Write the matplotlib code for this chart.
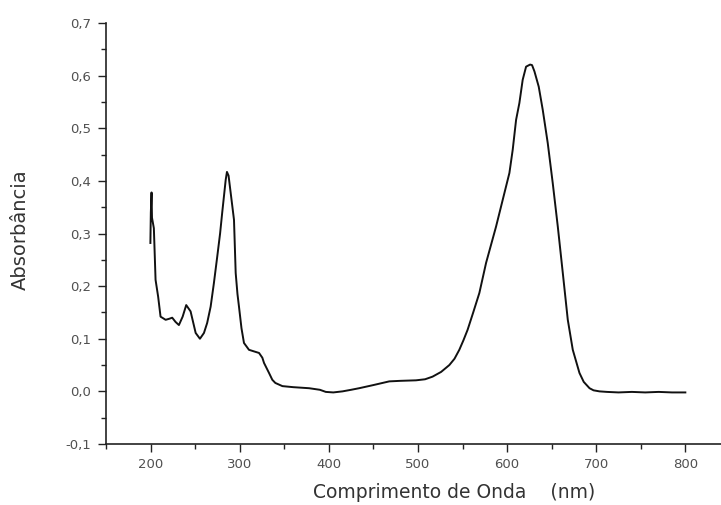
import matplotlib
matplotlib.use("Agg")
import matplotlib.pyplot as plt
from matplotlib.ticker import MultipleLocator, FuncFormatter

# wavelength (nm) and absorbance
wavelength = [199.8, 200.3, 201.1, 201.6, 203.7, 205.6, 208.5, 211.2, 216.9, 221.0, 224.3,
              228.0, 231.8, 236.0, 240.0, 244.9, 250.6, 255.4, 259.9, 263.5, 267.4, 271.0,
              274.8, 278.0, 280.4, 284.3, 285.7, 287.5, 289.9, 293.6, 295.5, 297.5, 299.2,
              302.0, 304.8, 310.4, 316.0, 321.7, 325.4, 327.3, 332.9, 336.6, 340.0, 347.9,
              360.0, 377.9, 390.0, 396.6, 405.0, 415.3, 425.0, 434.0, 450.0, 467.8, 480.0,
              497.8, 508.0, 516.4, 526.0, 535.2, 541.0, 546.4, 551.0, 555.7, 562.0, 568.9,
              576.4, 587.6, 595.1, 602.6, 606.3, 610.1, 613.8, 617.5, 621.3, 625.8, 628.0,
              630.7, 635.5, 640.0, 645.6, 651.2, 656.9, 662.5, 668.1, 673.7, 681.2, 686.0,
              692.5, 697.0, 703.7, 712.0, 725.0, 740.0, 755.0, 770.0, 785.0, 800.0]
absorbance = [0.282, 0.340, 0.378, 0.330, 0.310, 0.212, 0.180, 0.142, 0.136, 0.138, 0.140,
              0.132, 0.126, 0.142, 0.164, 0.152, 0.111, 0.100, 0.111, 0.130, 0.161, 0.205,
              0.256, 0.300, 0.340, 0.402, 0.417, 0.410, 0.377, 0.326, 0.225, 0.185, 0.161,
              0.120, 0.092, 0.079, 0.076, 0.073, 0.064, 0.054, 0.035, 0.022, 0.016, 0.010,
              0.008, 0.006, 0.003, -0.001, -0.002, 0.000, 0.003, 0.006, 0.012, 0.019, 0.020,
              0.021, 0.023, 0.028, 0.037, 0.050, 0.062, 0.079, 0.097, 0.117, 0.150, 0.187,
              0.244, 0.313, 0.364, 0.415, 0.459, 0.516, 0.548, 0.592, 0.617, 0.621, 0.620,
              0.608, 0.579, 0.535, 0.472, 0.396, 0.313, 0.225, 0.136, 0.079, 0.035, 0.018,
              0.006, 0.002, 0.000, -0.001, -0.002, -0.001, -0.002, -0.001, -0.002, -0.002]

x_major = [200, 300, 400, 500, 600, 700, 800]
y_major = [-0.1, 0.0, 0.1, 0.2, 0.3, 0.4, 0.5, 0.6, 0.7]

plt.rcParams['font.family'] = ['DejaVu Sans']

W, H = 721, 505
fig = plt.figure(figsize=(W / 100, H / 100), dpi=100)
ax = fig.add_axes([106 / W, 1 - 444 / H, (W - 106) / W, (444 - 23) / H])

ax.plot(wavelength, absorbance, color='#111111', lw=1.4)

ax.set_xlim(150, 840)
ax.set_ylim(-0.1, 0.7)
ax.set_xticks(x_major)
ax.set_yticks(y_major)
ax.xaxis.set_minor_locator(MultipleLocator(50))
ax.yaxis.set_minor_locator(MultipleLocator(0.05))
ax.yaxis.set_major_formatter(FuncFormatter(lambda v, p: f"{v:.1f}".replace('.', ',').replace('-0,0', '0,0')))

for s in ['top', 'right']:
    ax.spines[s].set_visible(False)
for s in ['left', 'bottom']:
    ax.spines[s].set_linewidth(1.2)
    ax.spines[s].set_color('#222222')

ax.tick_params(which='major', direction='out', length=6, width=1.0, color='#222222',
               labelsize=9.5, labelcolor='#505050', pad=4)
ax.tick_params(which='minor', direction='out', length=3.5, width=1.0, color='#222222')
ax.tick_params(axis='y', which='major', pad=5)

fig.text(20 / W, 1 - 230 / H, 'Absorbância', rotation=90, ha='center', va='center',
         fontsize=14, color='#333333')
fig.text(454 / W, 1 - 493 / H, 'Comprimento de Onda    (nm)', ha='center', va='center',
         fontsize=13.5, color='#333333')

fig.savefig('out.png', dpi=100, facecolor='white')
